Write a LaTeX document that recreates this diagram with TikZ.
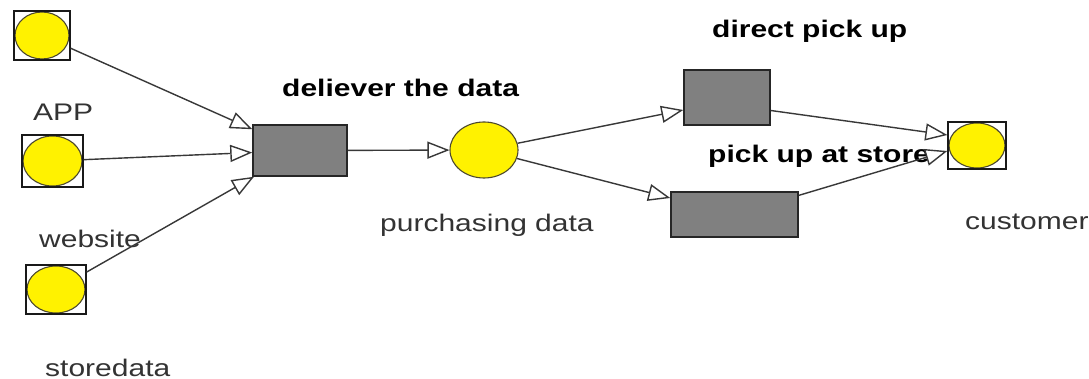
\documentclass[tikz,border=0pt]{standalone}
\usepackage{fontspec}
\setmainfont{Liberation Sans}
\newfontfamily\labfont[FakeStretch=1.25]{Liberation Sans}
\usetikzlibrary{arrows.meta,shapes.geometric}

% a yellow ellipse inscribed in a framed square: name, x, y, width, height
\newcommand\ringnode[5]{%
  \pgfmathsetmacro\ringw{#4-2}%
  \pgfmathsetmacro\ringh{#5-2}%
  \node[dot, minimum width=\ringw pt, minimum height=\ringh pt] (#1-dot) at (#2,#3) {};
  \node[frame, minimum width=#4pt, minimum height=#5pt] (#1) at (#2,#3) {};
}

\begin{document}
\begin{tikzpicture}[x=1pt,y=-1pt,
  lab/.style={anchor=base west, inner sep=0, text=black!80,
    font=\labfont\fontsize{24}{28}\selectfont},
  head/.style={anchor=base west, inner sep=0, text=black,
    font=\labfont\bfseries\fontsize{24}{28}\selectfont},
  frame/.style={rectangle, draw=black!90, line width=1.3pt, inner sep=0},
  dot/.style={ellipse, draw=black!60!olive, line width=1.1pt, fill=yellow, inner sep=0},
  task/.style={rectangle, draw=black!85, line width=1.5pt, fill=black!50, inner sep=0},
  flow/.style={draw=black!78, line width=1.4pt,
    -{Triangle[length=22pt, width=17pt, fill=white]}}
]
\fill[white] (0,0) rectangle (1089,379);
\useasboundingbox (0,0) rectangle (1089,379);

% sources and sink
\ringnode{src1}{42}{35.5}{56}{49}
\ringnode{src2}{52.5}{161}{61}{52}
\ringnode{src3}{56}{289.5}{60}{49}
\ringnode{cust}{977}{145.5}{58}{47}

% process steps
\node[task, minimum width=94pt, minimum height=51pt] (deliver) at (300,150.5) {};
\node[dot, minimum width=68pt, minimum height=56pt] (purch) at (484,150) {};
\node[task, minimum width=86pt, minimum height=55pt] (direct) at (727,97.5) {};
\node[task, minimum width=127pt, minimum height=45pt] (store) at (734.5,214.5) {};

% labels
\node[lab] (appl) at (33,121) {APP};
\node[lab] (webl) at (39,248) {website};
\node[lab] (storel) at (45,376) {storedata};
\node[head] (delivl) at (282,97) {deliever the data};
\node[lab] (purchl) at (380,232) {purchasing data};
\node[head] (directl) at (712,38) {direct pick up};
\node[head] (storehl) at (708,163) {pick up at store};
\node[lab] (custl) at (965,230) {customer};

% flows
\draw[flow] (src1) -- (deliver);
\draw[flow] (src2) -- (deliver);
\draw[flow] (src3) -- (deliver);
\draw[flow] (deliver) -- (purch);
\draw[flow] (purch) -- ([yshift=-12.5pt]direct.west);
\draw[flow] (purch) -- (store);
\draw[flow] ([yshift=-13pt]direct.east) -- ([yshift=10.5pt]cust.west);
\draw[flow] (store) -- ([yshift=-5.5pt]cust.west);
\end{tikzpicture}
\end{document}
